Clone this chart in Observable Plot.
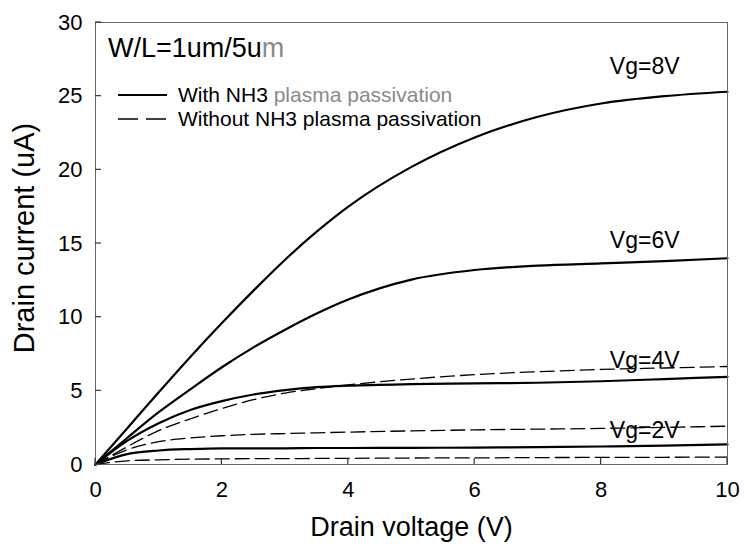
<!DOCTYPE html>
<html>
<head>
<meta charset="utf-8">
<script src="https://cdn.jsdelivr.net/npm/d3@7"></script>
<script src="https://cdn.jsdelivr.net/npm/@observablehq/plot@0.6"></script>
<style>
  html, body { margin: 0; padding: 0; background: #fff; }
  #chart { width: 744px; height: 553px; }
  svg { font-family: "Liberation Sans", Arial, sans-serif; }
</style>
</head>
<body>
<div id="chart"></div>
<script>
// Drain voltage sample points (V)
const vd = [0, 0.5, 1, 1.5, 2, 2.5, 3, 3.5, 4, 5, 6, 7, 8, 9, 10];

// With NH3 plasma passivation (solid)
const withVg8 = [0, 2.45, 4.9, 7.3, 9.6, 11.8, 13.9, 15.8, 17.5, 20.2, 22.2, 23.6, 24.5, 25.0, 25.3];
const withVg6 = [0, 1.8, 3.55, 5.1, 6.6, 7.95, 9.15, 10.25, 11.2, 12.55, 13.2, 13.5, 13.65, 13.8, 14.0];
const withVg4 = [0, 1.6, 2.8, 3.7, 4.3, 4.75, 5.05, 5.25, 5.35, 5.45, 5.5, 5.55, 5.65, 5.8, 5.95];
const withVg2 = [0, 0.7, 0.95, 1.05, 1.1, 1.1, 1.1, 1.12, 1.12, 1.13, 1.15, 1.18, 1.22, 1.28, 1.36];

// Without NH3 plasma passivation (dashed)
const withoutVg4 = [0, 1.2, 2.3, 3.1, 3.8, 4.4, 4.85, 5.15, 5.4, 5.8, 6.1, 6.3, 6.45, 6.55, 6.65];
const withoutVg2 = [0, 1.0, 1.55, 1.8, 1.95, 2.05, 2.1, 2.15, 2.2, 2.28, 2.35, 2.4, 2.45, 2.52, 2.6];
const withoutLow = [0, 0.25, 0.32, 0.36, 0.38, 0.4, 0.4, 0.41, 0.42, 0.44, 0.45, 0.47, 0.48, 0.49, 0.5];

const xTicks = [0, 2, 4, 6, 8, 10];
const yTicks = [0, 5, 10, 15, 20, 25, 30];

const vgLabels = ["Vg=8V", "Vg=6V", "Vg=4V", "Vg=2V"];
const vgLabelX = [8.69, 8.69, 8.69, 8.69];
const vgLabelY = [27.0, 15.2, 7.06, 2.3];

// text pieces: [black part, grey part]
const titleParts = ["W/L=1um/5u", "m"];
const legendParts = [["With NH3 ", "plasma passivation"], ["Without NH3 plasma passivation", ""]];
const xLabel = "Drain voltage (V)";
const yLabel = "Drain current (uA)";

function series(ys, name, type) {
  return ys.map((y, i) => ({x: vd[i], y, name, type}));
}
const solidData = [
  ...series(withVg8, "Vg8", "with"),
  ...series(withVg6, "Vg6", "with"),
  ...series(withVg4, "Vg4", "with"),
  ...series(withVg2, "Vg2", "with")
];
const dashedData = [
  ...series(withoutVg4, "Vg4", "without"),
  ...series(withoutVg2, "Vg2", "without"),
  ...series(withoutLow, "low", "without")
];
const labelData = vgLabels.map((t, i) => ({t, x: vgLabelX[i], y: vgLabelY[i]}));

const W = 744, H = 553;
const mL = 95, mR = 17, mT = 22, mB = 89;
const tickLen = 6;

const chart = Plot.plot({
  width: W,
  height: H,
  marginLeft: mL,
  marginRight: mR,
  marginTop: mT,
  marginBottom: mB,
  style: {fontFamily: '"Liberation Sans", Arial, sans-serif', background: "#fff", color: "#000"},
  x: {domain: [0, 10]},
  y: {domain: [0, 30]},
  marks: [
    Plot.axisX({ticks: xTicks, tickSize: 0, tickPadding: 17, fontSize: 22, label: null}),
    Plot.axisY({ticks: yTicks, tickSize: 0, tickPadding: 13, fontSize: 22, label: null}),
    Plot.line(dashedData, {x: "x", y: "y", z: "name", curve: "monotone-x", stroke: "#000", strokeWidth: 1.3, strokeDasharray: "14,6"}),
    Plot.line(solidData, {x: "x", y: "y", z: "name", curve: "monotone-x", stroke: "#000", strokeWidth: 2.2}),
    Plot.text(labelData, {x: "x", y: "y", text: "t", fontSize: 23, fill: "#000"}),
    Plot.frame({stroke: "#666", strokeWidth: 1}),
    Plot.text([xLabel], {frameAnchor: "bottom", dy: 71, fontSize: 27, fill: "#000"})
  ]
});

document.getElementById("chart").appendChild(chart);

const svg = d3.select(chart);
const FONT = '"Liberation Sans", Arial, sans-serif';
const sx = chart.scale("x"), sy = chart.scale("y");
const x0 = sx.apply(0), y0 = sy.apply(0);

// inward tick marks, placed through Plot's own scales
const tg = svg.append("g").attr("stroke", "#333").attr("stroke-width", 1.2);
xTicks.forEach(v => {
  const px = sx.apply(v);
  tg.append("line").attr("x1", px).attr("x2", px).attr("y1", y0).attr("y2", y0 - tickLen);
});
yTicks.forEach(v => {
  const py = sy.apply(v);
  tg.append("line").attr("x1", x0).attr("x2", x0 + tickLen).attr("y1", py).attr("y2", py);
});

// Y axis title
svg.append("text")
  .attr("transform", "translate(24,238) rotate(-90)")
  .attr("text-anchor", "middle")
  .attr("dy", "0.35em")
  .attr("font-family", FONT)
  .attr("font-size", 29)
  .attr("fill", "#000")
  .text(yLabel);

// W/L title
const tt = svg.append("text")
  .attr("x", 108).attr("y", 57)
  .attr("text-anchor", "start")
  .attr("font-family", FONT)
  .attr("font-size", 27)
  .attr("fill", "#000");
tt.append("tspan").text(titleParts[0]);
tt.append("tspan").attr("fill", "#8a8a8a").text(titleParts[1]);

// Legend inside the plot area
const lg = svg.append("g").attr("font-family", FONT);
const legendStyles = [
  {dash: null, width: 2.2},
  {dash: "20,8", width: 1.3}
];
legendParts.forEach((parts, i) => {
  const y = 95 + i * 24;
  lg.append("line")
    .attr("x1", 118).attr("x2", 167)
    .attr("y1", y).attr("y2", y)
    .attr("stroke", "#000")
    .attr("stroke-width", legendStyles[i].width)
    .attr("stroke-dasharray", legendStyles[i].dash);
  const t = lg.append("text")
    .attr("x", 178).attr("y", y)
    .attr("dy", "0.35em")
    .attr("text-anchor", "start")
    .attr("font-size", 21)
    .attr("fill", "#000");
  t.append("tspan").text(parts[0]);
  if (parts[1]) t.append("tspan").attr("fill", "#8a8a8a").text(parts[1]);
});
</script>
</body>
</html>
